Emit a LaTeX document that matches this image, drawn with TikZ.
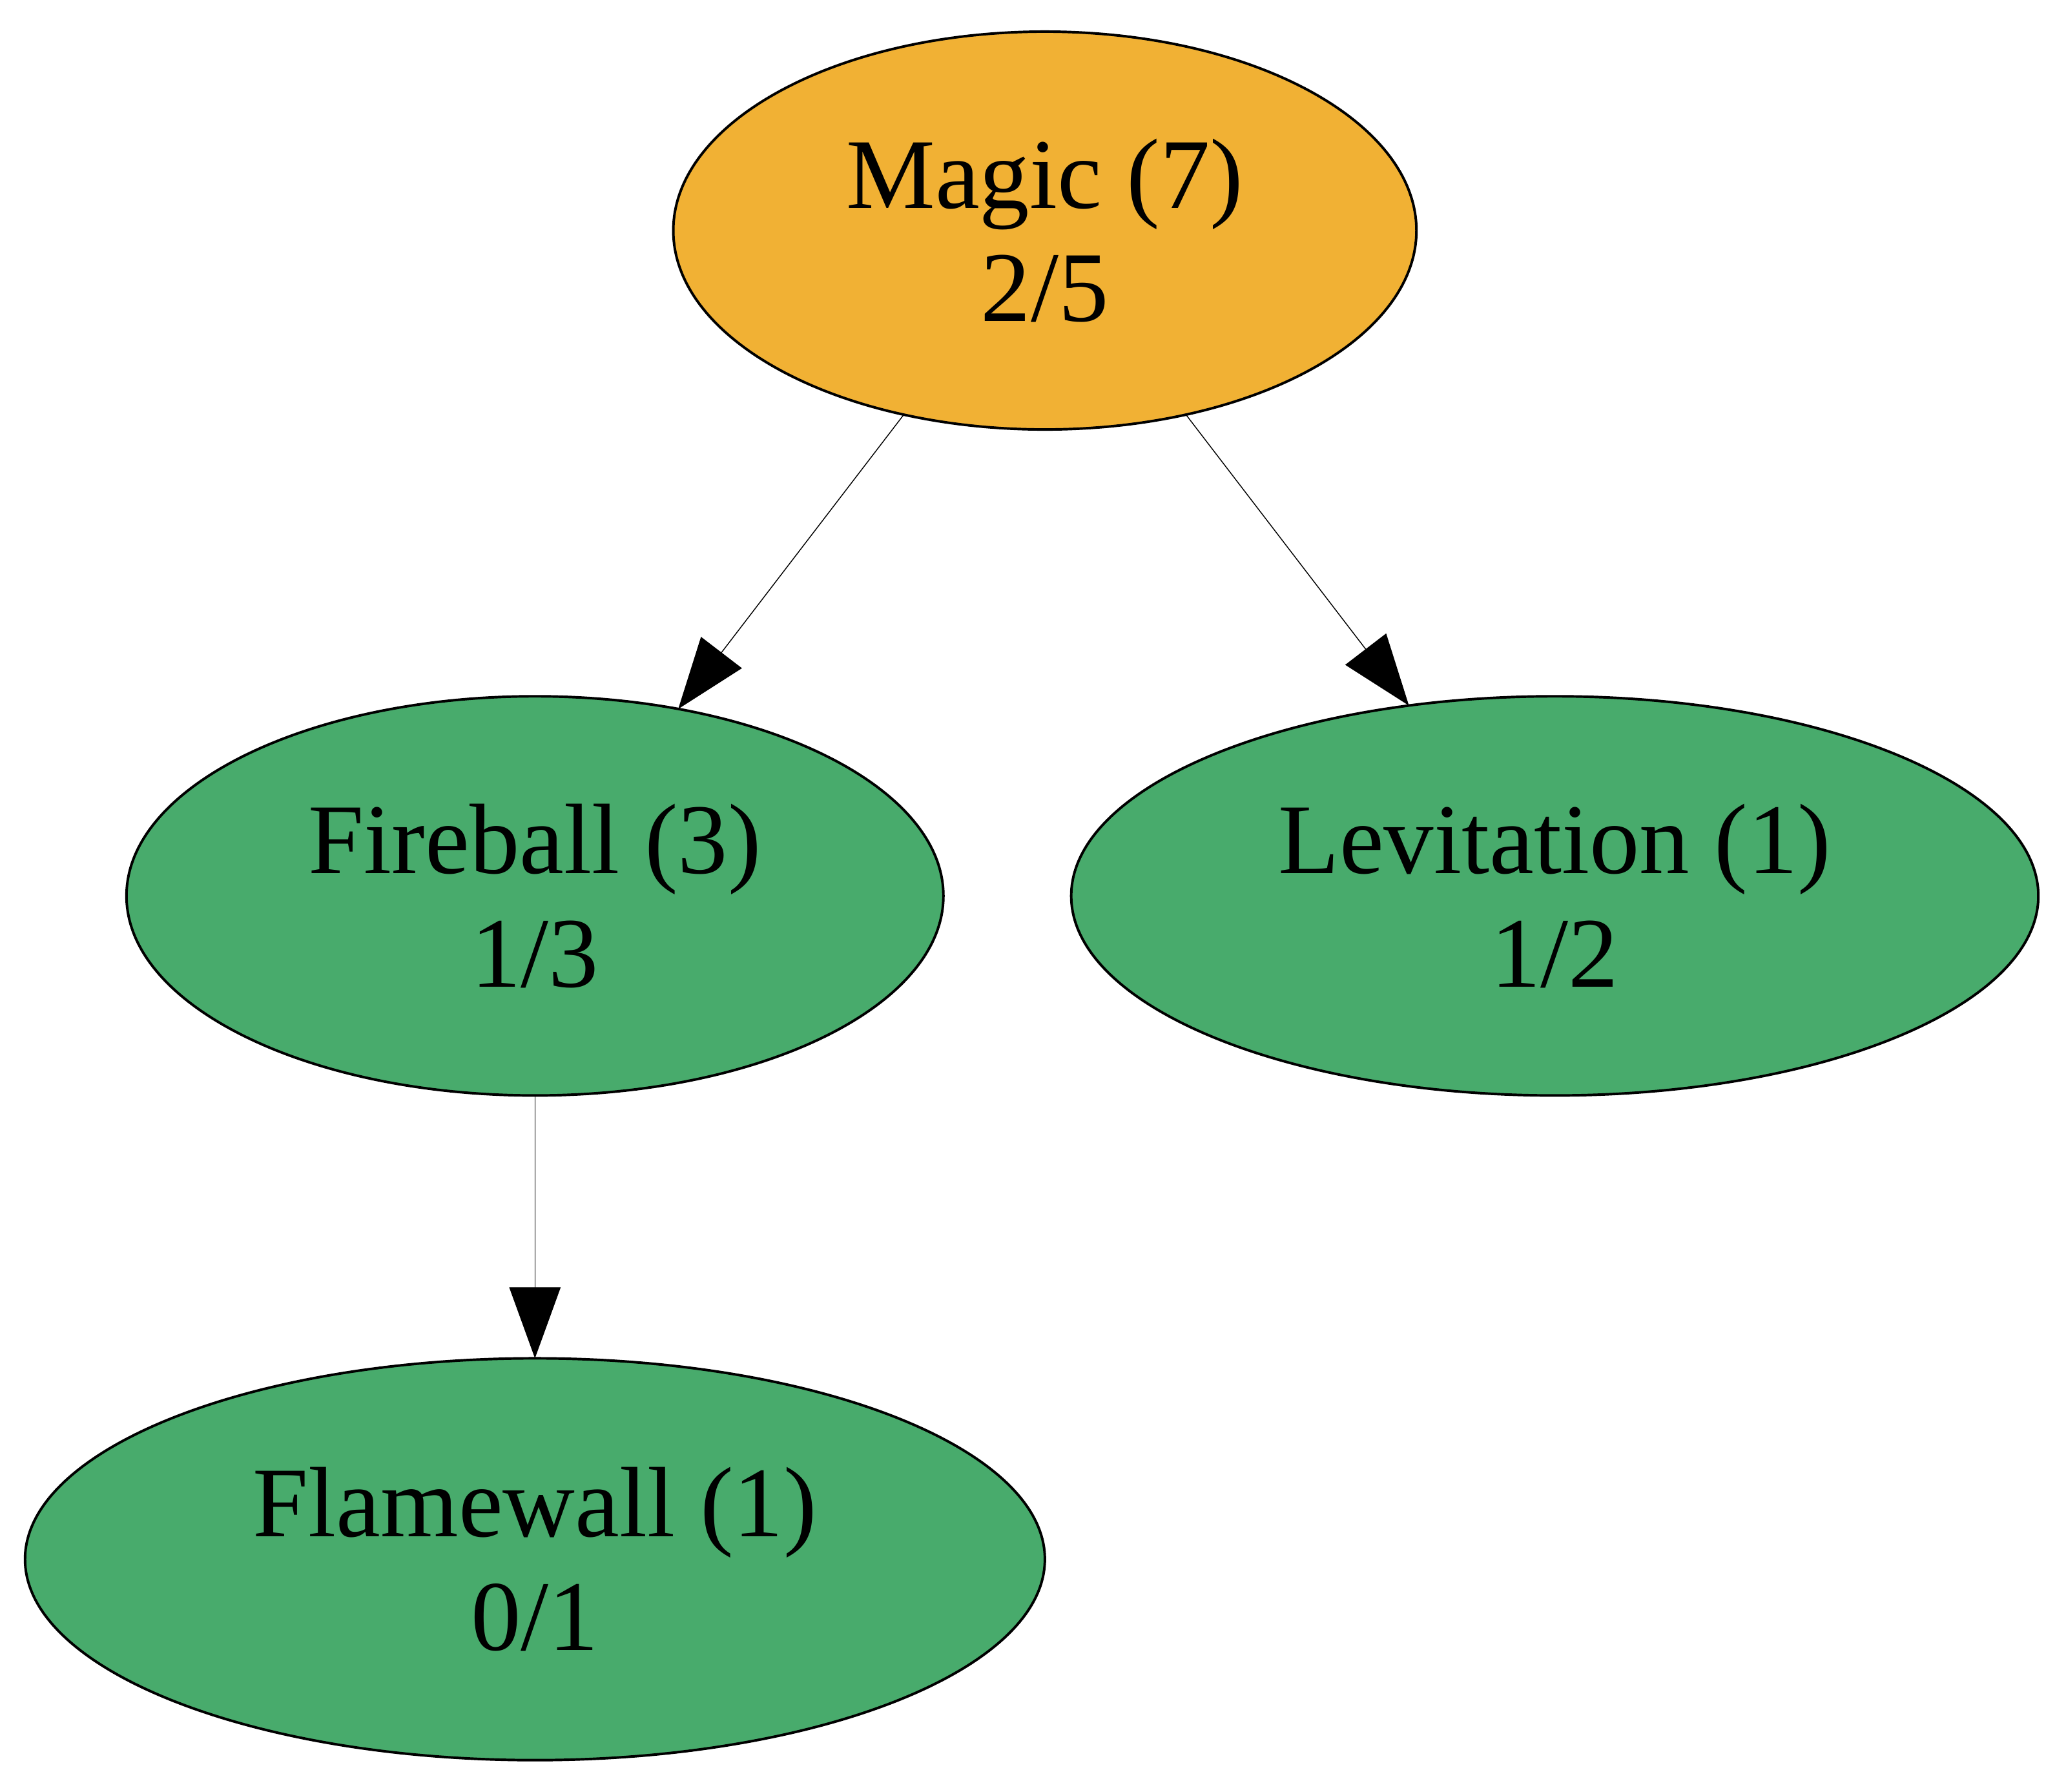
\documentclass[tikz,border=0pt]{standalone}
\usepackage{fontspec}
\setmainfont{Liberation Serif}
\usepackage{tikz}
\usepackage{xcolor}
\usetikzlibrary{shapes.geometric,arrows.meta}
\definecolor{rootorange}{RGB}{241,177,52}
\definecolor{leafgreen}{RGB}{72,171,108}
\tikzset{
  spell/.style={ellipse,draw=black,line width=0.55pt,fill=leafgreen,inner sep=0pt,outer sep=0pt,
    align=center,font=\fontsize{21.6}{24.5}\selectfont,minimum height=3.03cm},
  link/.style={line width=0.2pt,-{Triangle[length=0.54cm,width=0.39cm]}}
}
\begin{document}
\begin{tikzpicture}
	\useasboundingbox (0,0) rectangle (15.68,-13.60);
	\node[spell,fill=rootorange,minimum width=5.64cm,minimum height=3.02cm] (magic) at (7.93,-1.75){Magic (7)\\2/5};
	\node[spell,minimum width=6.20cm] (fireball) at (4.06,-6.80){Fireball (3)\\1/3};
	\node[spell,minimum width=7.34cm] (levitation) at (11.80,-6.80){Levitation (1)\\1/2};
	\node[spell,minimum width=7.74cm,minimum height=3.05cm] (flamewall) at (4.06,-11.835){Flamewall (1)\\0/1};
	\draw[link] (magic)--(fireball);
	\draw[link] (magic)--(levitation);
	\draw[link] (fireball)--(flamewall);
\end{tikzpicture}
\end{document}
